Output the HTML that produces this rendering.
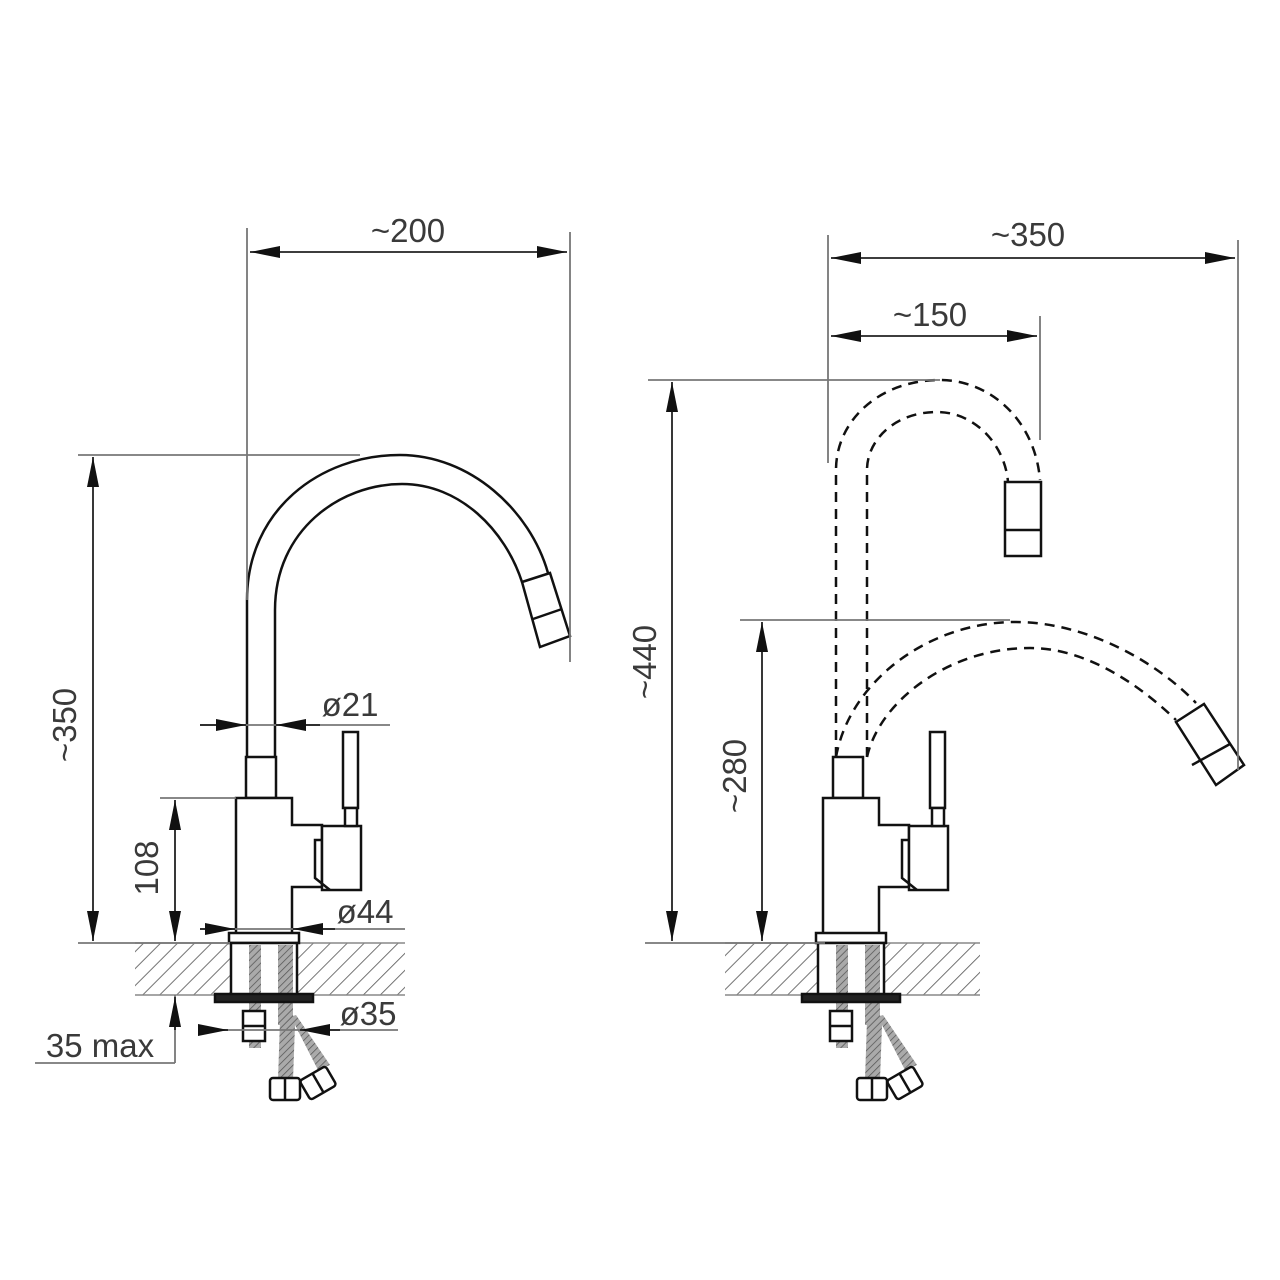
<!DOCTYPE html>
<html><head><meta charset="utf-8"><style>
html,body{margin:0;padding:0;background:#fff;}
svg{display:block;}
text{font-family:"Liberation Sans",sans-serif;fill:#3a3a3a;font-size:33px;}
</style></head><body>
<svg width="1280" height="1280" viewBox="0 0 1280 1280" xmlns="http://www.w3.org/2000/svg">
<defs>
<pattern id="h" width="12" height="12" patternUnits="userSpaceOnUse" patternTransform="rotate(45)">
<line x1="0" y1="0" x2="0" y2="12" stroke="#666" stroke-width="1.8"/>
</pattern>
<pattern id="th" width="5" height="5" patternUnits="userSpaceOnUse" patternTransform="rotate(45)">
<rect width="5" height="5" fill="#aaa"/><line x1="0" y1="0" x2="0" y2="5" stroke="#555" stroke-width="1.5"/>
</pattern>
<marker id="al" viewBox="0 0 30 12" refX="30" refY="6" markerWidth="30" markerHeight="12" markerUnits="userSpaceOnUse" orient="auto-start-reverse">
<path d="M0,0 L30,6 L0,12 z" fill="#111"/>
</marker>
<g id="faucet" fill="none" stroke="#111" stroke-width="2.5">
<rect x="246" y="757" width="30" height="41" fill="#fff"/>
<path d="M236,940 L236,798 L292,798 L292,825 L322,825 L322,887 L292,887 L292,940" fill="#fff"/>
<rect x="322" y="826" width="39" height="64" fill="#fff"/>
<path d="M322,840 L315,840 L315,878 L330,890"/>
<rect x="343" y="732" width="15" height="76" fill="#fff"/>
<rect x="345" y="808" width="12" height="18" fill="#fff"/>
<rect x="229" y="933" width="70" height="10" fill="#fff"/>
<rect x="231" y="943" width="66" height="52" fill="#fff"/>
<rect x="249" y="945" width="12" height="103" fill="url(#th)" stroke="none"/>
<rect x="278" y="945" width="15" height="80" fill="url(#th)" stroke="none"/>
<path d="M280,1020 L278,1080 L293,1080 L295,1025 L318,1070 L330,1065 L296,1015 Z" fill="url(#th)" stroke="none"/>
<rect x="215" y="994" width="98" height="8" fill="#222"/>
<rect x="243" y="1011" width="22" height="30" fill="#fff"/>
<line x1="243" y1="1026" x2="265" y2="1026"/>
<rect x="270" y="1078" width="30" height="22" rx="3" fill="#fff"/>
<line x1="285" y1="1078" x2="285" y2="1100"/>
<g transform="rotate(-30 318 1083)"><rect x="303" y="1072" width="30" height="22" rx="3" fill="#fff"/><line x1="318" y1="1072" x2="318" y2="1094"/></g>
</g>
</defs>

<rect x="135" y="943" width="270" height="52" fill="url(#h)"/>
<rect x="725" y="943" width="255" height="52" fill="url(#h)"/>
<g stroke="#888" stroke-width="1.6">
<line x1="135" y1="943" x2="405" y2="943"/><line x1="135" y1="995" x2="405" y2="995"/>
<line x1="725" y1="943" x2="980" y2="943"/><line x1="725" y1="995" x2="980" y2="995"/>
</g>

<use href="#faucet"/>
<g fill="none" stroke="#111" stroke-width="2.5">
<path d="M247,757 L247,600 C247,510 320,455 400,455 C470,455 530,510 548,573"/>
<path d="M275,757 L275,610 C275,530 340,484 402,484 C460,484 505,530 522,582"/>
<polygon points="522,582 550,573 570,636 540,647" fill="#fff"/>
<line x1="533" y1="619" x2="562" y2="609"/>
</g>

<use href="#faucet" transform="translate(587,0)"/>
<g fill="none" stroke="#111" stroke-width="2.5" stroke-dasharray="10,7">
<path d="M836,757 L836,470 C836,420 880,380 940,380 C990,380 1035,420 1040,480"/>
<path d="M867,757 L867,470 C867,440 895,412 937,412 C975,412 1005,445 1008,482"/>
<path d="M836,757 C850,680 930,622 1015,622 C1090,622 1160,665 1196,703"/>
<path d="M867,757 C880,700 950,648 1030,648 C1090,648 1145,690 1176,720"/>
</g>
<g fill="#fff" stroke="#111" stroke-width="2.5">
<rect x="1005" y="482" width="36" height="74"/>
<line x1="1005" y1="530" x2="1041" y2="530"/>
<polygon points="1176,722 1204,704 1244,765 1216,785"/>
<line x1="1192" y1="765" x2="1230" y2="744"/>
</g>

<g stroke="#777" stroke-width="1.8" fill="none">
<line x1="247" y1="228" x2="247" y2="600"/>
<line x1="570" y1="232" x2="570" y2="662"/>
<line x1="828" y1="235" x2="828" y2="463"/>
<line x1="1238" y1="240" x2="1238" y2="770"/>
<line x1="1040" y1="316" x2="1040" y2="440"/>
<line x1="78" y1="455" x2="360" y2="455"/>
<line x1="78" y1="943" x2="230" y2="943"/>
<line x1="160" y1="798" x2="236" y2="798"/>
<line x1="648" y1="380" x2="940" y2="380"/>
<line x1="645" y1="943" x2="825" y2="943"/>
<line x1="740" y1="620" x2="1010" y2="620"/>
<line x1="200" y1="725" x2="390" y2="725"/>
<line x1="200" y1="929" x2="405" y2="929"/>
<line x1="200" y1="1030" x2="398" y2="1030"/>
<line x1="35" y1="1063" x2="175" y2="1063"/>
<line x1="175" y1="1063" x2="175" y2="995"/>
</g>
<g stroke="#222" stroke-width="1.8" fill="none">
<line x1="250" y1="252" x2="567" y2="252" marker-start="url(#al)" marker-end="url(#al)"/>
<line x1="831" y1="258" x2="1235" y2="258" marker-start="url(#al)" marker-end="url(#al)"/>
<line x1="831" y1="336" x2="1037" y2="336" marker-start="url(#al)" marker-end="url(#al)"/>
<line x1="93" y1="457" x2="93" y2="941" marker-start="url(#al)" marker-end="url(#al)"/>
<line x1="175" y1="800" x2="175" y2="941" marker-start="url(#al)" marker-end="url(#al)"/>
<line x1="672" y1="382" x2="672" y2="941" marker-start="url(#al)" marker-end="url(#al)"/>
<line x1="762" y1="622" x2="762" y2="941" marker-start="url(#al)" marker-end="url(#al)"/>
<line x1="175" y1="1030" x2="175" y2="997" marker-end="url(#al)"/>
<line x1="200" y1="725" x2="246" y2="725" marker-end="url(#al)"/>
<line x1="320" y1="725" x2="276" y2="725" marker-end="url(#al)"/>
<line x1="200" y1="929" x2="235" y2="929" marker-end="url(#al)"/>
<line x1="335" y1="929" x2="293" y2="929" marker-end="url(#al)"/>
<line x1="200" y1="1030" x2="228" y2="1030" marker-end="url(#al)"/>
<line x1="340" y1="1030" x2="300" y2="1030" marker-end="url(#al)"/>
</g>

<text x="408" y="242" text-anchor="middle">~200</text>
<text x="1028" y="246" text-anchor="middle">~350</text>
<text x="930" y="326" text-anchor="middle">~150</text>
<text x="350" y="716" text-anchor="middle">ø21</text>
<text x="365" y="923" text-anchor="middle">ø44</text>
<text x="368" y="1025" text-anchor="middle">ø35</text>
<text x="100" y="1057" text-anchor="middle">35 max</text>
<text transform="translate(76,725) rotate(-90)" text-anchor="middle">~350</text>
<text transform="translate(158,868) rotate(-90)" text-anchor="middle">108</text>
<text transform="translate(656,662) rotate(-90)" text-anchor="middle">~440</text>
<text transform="translate(746,776) rotate(-90)" text-anchor="middle">~280</text>
</svg>
</body></html>
